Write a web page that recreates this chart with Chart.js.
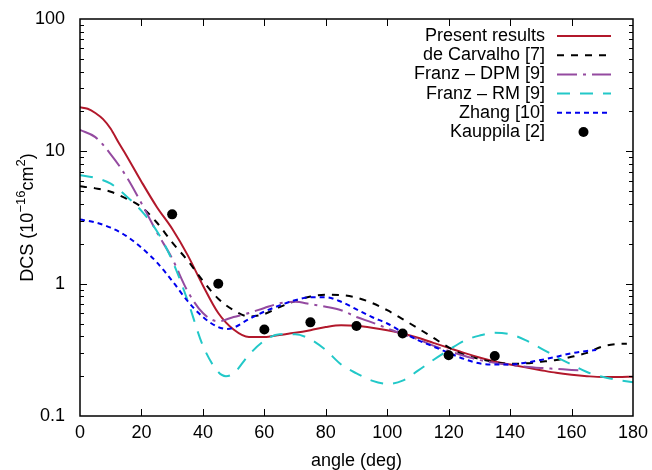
<!DOCTYPE html>
<html>
<head>
<meta charset="utf-8">
<script src="https://cdn.jsdelivr.net/npm/chart.js@4.4.1/dist/chart.umd.min.js"></script>
<style>
  html, body { margin: 0; padding: 0; background: #fff; }
</style>
</head>
<body>
<canvas id="myChart" width="652" height="470"></canvas>
<script>
// values (angle in deg, DCS in 1e-16 cm^2)
const presentAngles = [0,2.5,5,7.5,10,12.5,15,20,25,30,35,40,45,50,55,60,65,70,75,80,85,90,95,100,105,110,115,120,125,130,135,140,145,150,155,160,165,170,175,180];
const presentDcs = [21.5,21.0,19.5,17.5,14.8,11.7,9.4,5.9,3.8,2.6,1.65,0.97,0.6,0.45,0.395,0.395,0.41,0.425,0.445,0.47,0.485,0.48,0.465,0.445,0.42,0.39,0.357,0.327,0.3,0.277,0.258,0.245,0.233,0.222,0.212,0.205,0.2,0.197,0.197,0.198];

const carvalhoAngles = [0,5,10,15,20,25,30,35,40,45,50,55,60,65,70,75,80,85,90,95,100,105,110,115,120,125,130,135,140,145,150,155,160,165,170,175,178];
const carvalhoDcs = [5.45,5.25,4.95,4.4,3.8,2.9,2.05,1.5,1.05,0.77,0.63,0.565,0.59,0.665,0.74,0.8,0.825,0.82,0.785,0.715,0.63,0.54,0.46,0.39,0.33,0.29,0.27,0.255,0.248,0.25,0.257,0.265,0.28,0.3,0.335,0.35,0.352];

const dpmAngles = [0,5,10,15,20,25,30,35,40,45,50,55,60,65,70,75,80,85,90,95,100,105,110,115,120,125,130,135,140,145,150,155,160,164];
const dpmDcs = [14.5,12.8,9.5,6.5,4.05,2.45,1.55,0.88,0.6,0.52,0.56,0.6,0.655,0.71,0.73,0.7,0.67,0.63,0.56,0.51,0.46,0.415,0.38,0.34,0.31,0.285,0.265,0.252,0.243,0.236,0.231,0.227,0.223,0.22];

const rmAngles = [0,5,10,15,20,25,30,35,40,45,47.5,50,55,60,65,70,75,80,85,90,95,100,105,110,115,120,125,130,135,140,145,150,155,160,165,170,175,180];
const rmDcs = [6.6,6.3,5.7,4.6,3.55,2.5,1.5,0.75,0.34,0.215,0.2,0.21,0.29,0.37,0.415,0.415,0.38,0.315,0.245,0.21,0.185,0.175,0.185,0.22,0.265,0.315,0.37,0.405,0.425,0.415,0.375,0.325,0.28,0.245,0.215,0.198,0.187,0.18];

const zhangAngles = [0,5,10,15,20,25,30,35,40,45,48,50,55,60,65,70,75,80,85,90,95,100,105,110,115,120,125,130,135,140,145,150,155,160,165,168];
const zhangDcs = [3.05,2.9,2.65,2.3,1.87,1.45,1.05,0.74,0.56,0.47,0.455,0.465,0.54,0.615,0.685,0.75,0.79,0.79,0.73,0.64,0.56,0.5,0.43,0.375,0.335,0.3,0.27,0.25,0.245,0.245,0.253,0.265,0.28,0.298,0.31,0.315];

const kauppilaAngles = [30,45,60,75,90,105,120,135];
const kauppilaDcs = [3.34,1.0,0.45,0.51,0.478,0.42,0.288,0.284];

const xTickValues = [0,20,40,60,80,100,120,140,160,180];
const yTickValues = [0.1,1,10,100];
const yTickLabels = ['0.1','1','10','100'];

const FONT = "'Liberation Sans', Arial, Helvetica, sans-serif";
Chart.defaults.color = '#000';
Chart.defaults.font.family = FONT;

const pts = (xs, ys) => xs.map((x, i) => ({ x: x, y: ys[i] }));

function curve(label, xs, ys, color, dash, order) {
  return {
    type: 'line',
    label: label,
    data: pts(xs, ys),
    borderColor: color,
    backgroundColor: color,
    borderWidth: 2,
    borderDash: dash,
    pointRadius: 0,
    fill: false,
    cubicInterpolationMode: 'monotone',
    order: order
  };
}

// frame, inward ticks, legend and y title (gnuplot look)
const decorPlugin = {
  id: 'decor',
  afterDraw(chart) {
    const ctx = chart.ctx;
    const a = chart.chartArea;
    const xs = chart.scales.x, ys = chart.scales.y;
    ctx.save();
    ctx.strokeStyle = '#000';
    ctx.lineWidth = 1.5;
    ctx.setLineDash([]);
    ctx.strokeRect(a.left, a.top, a.right - a.left, a.bottom - a.top);

    ctx.lineWidth = 1;
    ctx.beginPath();
    xs.ticks.forEach(t => {
      const px = Math.round(xs.getPixelForValue(t.value)) + 0.5;
      if (px <= a.left + 1 || px >= a.right - 1) return;
      ctx.moveTo(px, a.bottom); ctx.lineTo(px, a.bottom - 7);
      ctx.moveTo(px, a.top); ctx.lineTo(px, a.top + 7);
    });
    for (let d = 0.1; d < 100; d *= 10) {
      for (let k = 1; k <= 10; k++) {
        const v = d * k;
        const py = Math.round(ys.getPixelForValue(v)) + 0.5;
        if (py >= a.bottom - 1 || py <= a.top + 1) continue;
        const len = (k === 1 || k === 10) ? 7 : 4;
        ctx.moveTo(a.left, py); ctx.lineTo(a.left + len, py);
        ctx.moveTo(a.right, py); ctx.lineTo(a.right - len, py);
      }
    }
    ctx.stroke();

    // legend
    ctx.font = '18px ' + FONT;
    ctx.textAlign = 'right';
    ctx.textBaseline = 'middle';
    const rows = [0,1,2,3,4,5];
    rows.forEach(i => {
      const ds = chart.data.datasets[i];
      const y = 36 + i * 19.2;
      ctx.fillStyle = '#000';
      ctx.fillText(ds.label, 545, y);
      if (ds.showLine === false) {
        ctx.beginPath();
        ctx.arc(583.5, y, 5, 0, Math.PI * 2);
        ctx.fillStyle = ds.backgroundColor;
        ctx.fill();
      } else {
        ctx.beginPath();
        ctx.strokeStyle = ds.borderColor;
        ctx.lineWidth = ds.borderWidth;
        ctx.setLineDash(ds.borderDash || []);
        ctx.moveTo(557, y);
        ctx.lineTo(611, y);
        ctx.stroke();
        ctx.setLineDash([]);
      }
    });

    // rotated y title with superscripts
    const parts = [
      { t: 'DCS (10', sup: false },
      { t: '\u221216', sup: true },
      { t: 'cm', sup: false },
      { t: '2', sup: true },
      { t: ')', sup: false }
    ];
    const big = '18px ' + FONT, small = '13px ' + FONT;
    let total = 0;
    parts.forEach(p => { ctx.font = p.sup ? small : big; p.w = ctx.measureText(p.t).width; total += p.w; });
    ctx.translate(33, (a.top + a.bottom) / 2);
    ctx.rotate(-Math.PI / 2);
    ctx.textAlign = 'left';
    ctx.textBaseline = 'alphabetic';
    ctx.fillStyle = '#000';
    let x = -total / 2;
    parts.forEach(p => {
      ctx.font = p.sup ? small : big;
      ctx.fillText(p.t, x, p.sup ? -8 : 0);
      x += p.w;
    });
    ctx.restore();
  }
};

new Chart(document.getElementById('myChart').getContext('2d'), {
  data: {
    datasets: [
      curve('Present results', presentAngles, presentDcs, '#b2182b', [], 6),
      curve('de Carvalho [7]', carvalhoAngles, carvalhoDcs, '#000000', [7, 7], 5),
      curve('Franz \u2013 DPM [9]', dpmAngles, dpmDcs, '#944aa0', [20, 6, 3, 6], 4),
      curve('Franz \u2013 RM [9]', rmAngles, rmDcs, '#22c8c8', [13, 10], 3),
      curve('Zhang [10]', zhangAngles, zhangDcs, '#0000ee', [5, 4], 2),
      {
        type: 'scatter',
        label: 'Kauppila [2]',
        data: pts(kauppilaAngles, kauppilaDcs),
        showLine: false,
        pointRadius: 5,
        pointHoverRadius: 5,
        pointBackgroundColor: '#000',
        pointBorderWidth: 0,
        backgroundColor: '#000',
        borderColor: '#000',
        order: 1
      }
    ]
  },
  options: {
    responsive: false,
    animation: false,
    devicePixelRatio: 1,
    layout: { padding: { top: 19, right: 19, left: 0, bottom: 0 } },
    plugins: {
      legend: { display: false },
      tooltip: { enabled: false }
    },
    scales: {
      x: {
        type: 'linear',
        min: 0,
        max: 180,
        afterBuildTicks: s => { s.ticks = xTickValues.map(v => ({ value: v })); },
        afterFit: s => { s.height = 54; },
        grid: { display: false },
        border: { display: false },
        ticks: { font: { size: 18 }, padding: -2, maxRotation: 0, autoSkip: false },
        title: { display: true, text: 'angle (deg)', font: { size: 18, lineHeight: 1 }, padding: 0 }
      },
      y: {
        type: 'logarithmic',
        min: 0.1,
        max: 100,
        afterBuildTicks: s => { s.ticks = yTickValues.map(v => ({ value: v })); },
        afterFit: s => { s.width = 80; },
        grid: { display: false },
        border: { display: false },
        ticks: {
          font: { size: 18 },
          padding: 7,
          autoSkip: false,
          callback: (v, i) => yTickLabels[i]
        }
      }
    }
  },
  plugins: [decorPlugin]
});
</script>
</body>
</html>
